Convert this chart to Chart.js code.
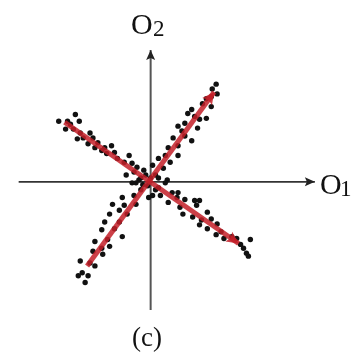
<!DOCTYPE html>
<html>
<head>
<meta charset="utf-8">
<script src="https://cdn.jsdelivr.net/npm/chart.js@4/dist/chart.umd.min.js"></script>
<style>
  html, body { margin: 0; padding: 0; background: #fff; }
  #wrap { width: 357px; height: 352px; position: relative; }
</style>
</head>
<body>
<div id="wrap"><canvas id="chart"></canvas></div>
<script>
// scattered samples (origin = axes crossing)
const dotsX = [
  -77,-73,-94,-85,-87,-79,-72,-75,-62,-59,-54,-64,-57,-47,-40,-45,-37,-34,-22,-27,-19,-25,-17,-14,-7,-19,-12,-82,-69,-50,
  67,63,68,62,57,53,62,42,38,57,50,28,35,48,32,23,42,35,18,28,15,28,8,20,2,13,5,17,0,45,
  -15,-10,-17,-2,-29,-27,-32,-42,-24,-47,-32,-37,-50,-29,-44,-57,-42,-50,-59,-49,-72,-62,-57,-70,-64,-74,-67,-15,-39,
  15,8,22,28,10,18,35,45,50,47,30,33,43,58,52,62,68,50,58,72,67,75,83,88,92,102,95,98,100,27,
  -10,-5,5,-3,-8,8,2
];
const dotsY = [
  69,62,62,62,54,54,50,44,50,45,40,39,35,35,37,29,30,24,27,20,19,7,10,15,12,-1,2,59,45,32,
  100,95,90,87,85,80,77,74,70,65,64,57,60,55,52,45,42,47,35,37,27,27,24,20,17,14,7,2,4,67,
  -1,-8,-14,-16,-16,-24,-29,-33,-33,-41,-41,-48,-49,-56,-59,-61,-66,-68,-71,-74,-81,-83,-86,-93,-96,-96,-103,-23,-23,
  -1,-6,-11,-11,-14,-21,-18,-19,-19,-24,-26,-33,-36,-31,-39,-38,-43,-44,-48,-51,-54,-58,-56,-58,-64,-59,-68,-73,-76,-16,
  4,7,-8,-4,-3,4,-14
];

// principal directions (red arrows): start and end
const dirAX = [-65, 65];
const dirAY = [-86, 92];
const dirBX = [-88, 90];
const dirBY = [61, -63];

// axis extents
const axisX = [-135, 168];
const axisY = [-131, 135];

const toPts = (xs, ys) => xs.map((x, i) => ({ x: x, y: ys[i] }));
const RED = 'rgba(195,30,40,0.85)';

const arrowsAndLabels = {
  id: 'arrowsAndLabels',
  afterDatasetsDraw(chart) {
    const ctx = chart.ctx;
    const sx = chart.scales.x, sy = chart.scales.y;
    const head = (x0, y0, x1, y1, len, half, color) => {
      const px0 = sx.getPixelForValue(x0), py0 = sy.getPixelForValue(y0);
      const px1 = sx.getPixelForValue(x1), py1 = sy.getPixelForValue(y1);
      const a = Math.atan2(py1 - py0, px1 - px0);
      ctx.save();
      ctx.translate(px1, py1);
      ctx.rotate(a);
      ctx.fillStyle = color;
      ctx.beginPath();
      ctx.moveTo(0, 0);
      ctx.lineTo(-len, -half);
      ctx.lineTo(-len * 0.8, 0);
      ctx.lineTo(-len, half);
      ctx.closePath();
      ctx.fill();
      ctx.restore();
    };
    head(axisX[0], 0, axisX[1], 0, 10, 4.5, '#222');
    head(0, axisY[0], 0, axisY[1], 10, 4.5, '#222');
    head(dirAX[0], dirAY[0], dirAX[1], dirAY[1], 12, 6, RED);
    head(dirBX[0], dirBY[0], dirBX[1], dirBY[1], 12, 6, RED);

    ctx.save();
    ctx.fillStyle = '#111';
    ctx.textBaseline = 'alphabetic';
    ctx.textAlign = 'left';
    ctx.font = '30px "Liberation Serif"';
    ctx.fillText('O', 131, 34);
    ctx.fillText('O', 320, 194);
    ctx.font = '23px "Liberation Serif"';
    ctx.fillText('2', 153, 36);
    ctx.fillText('1', 340, 196);
    ctx.font = '27px "Liberation Serif"';
    ctx.textAlign = 'center';
    ctx.fillText('(c)', 147, 346);
    ctx.restore();
  }
};

new Chart(document.getElementById('chart'), {
  type: 'scatter',
  data: {
    datasets: [
      {
        data: toPts(axisX, [0, 0]),
        showLine: true, borderColor: '#333', borderWidth: 1.8,
        pointRadius: 0, order: 4
      },
      {
        data: toPts([0, 0], axisY),
        showLine: true, borderColor: '#555', borderWidth: 2,
        pointRadius: 0, order: 4
      },
      {
        data: toPts(dotsX, dotsY),
        pointRadius: 2.7, pointBackgroundColor: '#111', pointBorderWidth: 0,
        order: 2
      },
      {
        data: toPts(dirAX, dirAY),
        showLine: true, borderColor: RED, borderWidth: 5,
        pointRadius: 0, order: 1
      },
      {
        data: toPts(dirBX, dirBY),
        showLine: true, borderColor: RED, borderWidth: 5,
        pointRadius: 0, order: 1
      }
    ]
  },
  options: {
    responsive: true,
    maintainAspectRatio: false,
    animation: false,
    layout: { padding: 0 },
    plugins: { legend: { display: false }, tooltip: { enabled: false } },
    scales: {
      x: { type: 'linear', min: -150, max: 207, display: false },
      y: { type: 'linear', min: -170, max: 182, display: false }
    }
  },
  plugins: [arrowsAndLabels]
});
</script>
</body>
</html>
